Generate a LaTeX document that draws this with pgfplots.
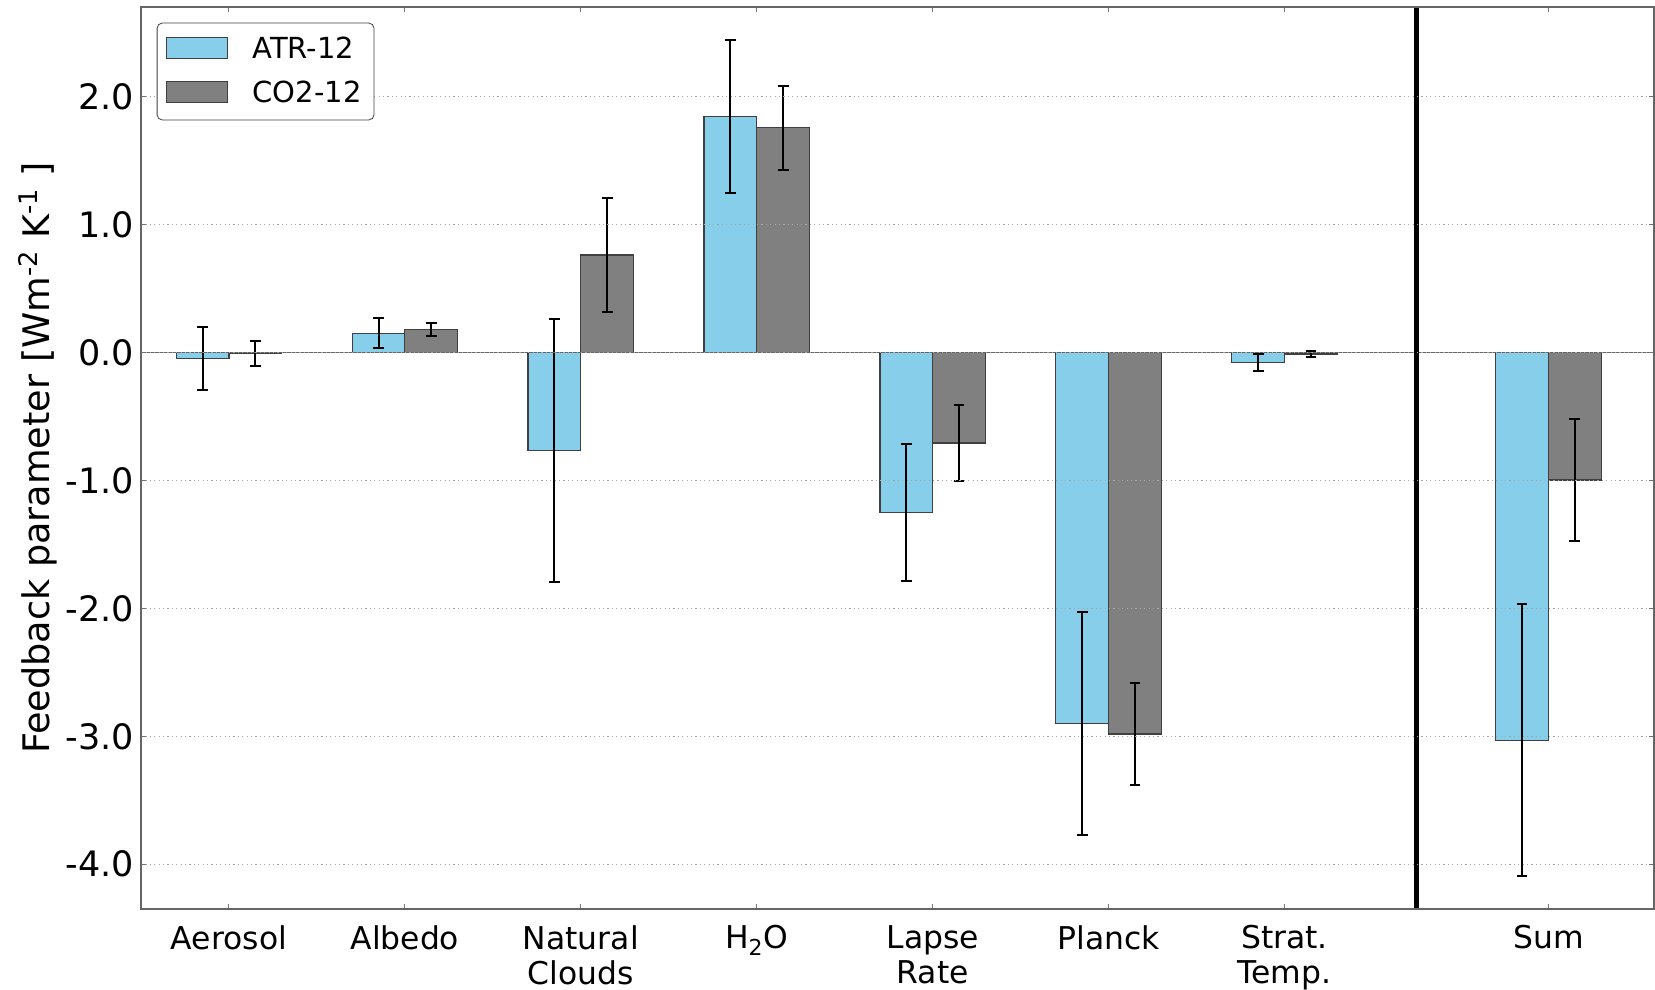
\documentclass[border=0pt]{standalone}
\usepackage{pgfplots}
\pgfplotsset{compat=1.18}
\usepackage{pgfplotstable}
\usepackage{fontspec}
\setmainfont{DejaVu Sans}
\definecolor{atr}{HTML}{87CEEB}
\definecolor{cotwo}{HTML}{808080}

\pgfplotstableread{
x    y       e
0    -0.050  0.245
1    0.151   0.115
2    -0.764  1.028
3    1.845   0.600
4    -1.252  0.534
5    -2.900  0.873
6    -0.078  0.066
7.5  -3.030  1.060
}\atrdata

\pgfplotstableread{
x    y       e
0    -0.008  0.100
1    0.177   0.052
2    0.762   0.442
3    1.756   0.327
4    -0.708  0.295
5    -2.982  0.400
6    -0.012  0.025
7.5  -0.997  0.480
}\codata

\begin{document}
\begin{tikzpicture}
\begin{axis}[
  scale only axis,
  width=756.5pt, height=451pt,
  xmin=-0.5, xmax=8.1,
  ymin=-4.35, ymax=2.7,
  xtick={0,1,2,3,4,5,6,7.5},
  xticklabels={Aerosol, Albedo, {Natural\\Clouds}, {H\textsubscript{2}O}, {Lapse\\Rate}, Planck, {Strat.\\Temp.}, Sum},
  xticklabel style={align=center, font=\fontsize{15.7}{17.4}\selectfont, yshift=-4.75pt},
  ytick={-4,-3,-2,-1,0,1,2},
  yticklabels={-4.0,-3.0,-2.0,-1.0,0.0,1.0,2.0},
  yticklabel style={font=\fontsize{17.5}{20}\selectfont},
  ylabel={Feedback parameter [Wm\textsuperscript{-2} K\textsuperscript{-1} ]},
  ylabel style={font=\fontsize{18.3}{22}\selectfont, at={(rel axis cs:0,0.5)}, anchor=base, yshift=45.5pt},
  ymajorgrids,
  grid style={black!35, line width=0.5pt, dash pattern=on 0.6pt off 1.6pt},
  axis line style={black!60, line width=0.6pt},
  tick style={black!55, line width=0.5pt},
  tick align=inside,
  major tick length=2.7pt,
  axis on top,
  legend style={at={(0.0104,0.9826)}, anchor=north west, draw=black!75, rounded corners=2.5pt,
    font=\fontsize{14.5}{17}\selectfont, inner xsep=4.2pt, inner ysep=5pt, row sep=5.9pt},
  legend image code/.code={\draw[#1, sharp corners, line width=0.5pt] (0pt,-4.35pt) rectangle (30.5pt,6.15pt);
    \path[draw=none, fill=none] (0pt,0pt) -- (41.3pt,0pt);},
  legend cell align=left,
]
\addplot[ybar, bar width=0.3, bar shift=0, fill=atr, draw=black!75, line width=0.6pt,
  error bars/.cd, y dir=both, y explicit,
  error bar style={black, line width=1pt, solid},
  error mark options={black, line width=1pt, mark size=2.7pt, rotate=90}]
  table[x expr=\thisrow{x}-0.15, y=y, y error=e] {\atrdata};
\addlegendentry{ATR-12}
\addplot[ybar, bar width=0.3, bar shift=0, fill=cotwo, draw=black!75, line width=0.6pt,
  error bars/.cd, y dir=both, y explicit,
  error bar style={black, line width=1pt, solid},
  error mark options={black, line width=1pt, mark size=2.7pt, rotate=90}]
  table[x expr=\thisrow{x}+0.15, y=y, y error=e] {\codata};
\addlegendentry{CO2-12}
\draw[black!60, line width=0.6pt] (axis cs:-0.5,0) -- (axis cs:8.1,0);
\draw[black, line width=2.8pt] (axis cs:6.75,-4.35) -- (axis cs:6.75,2.7);
\coordinate (ll) at (rel axis cs:0,0);
\coordinate (ur) at (rel axis cs:1,1);
\end{axis}
\pgfresetboundingbox
\path[use as bounding box] ([shift={(-70.5pt,-40pt)}]ll) rectangle ([shift={(0.5pt,3.5pt)}]ur);
\end{tikzpicture}
\end{document}
